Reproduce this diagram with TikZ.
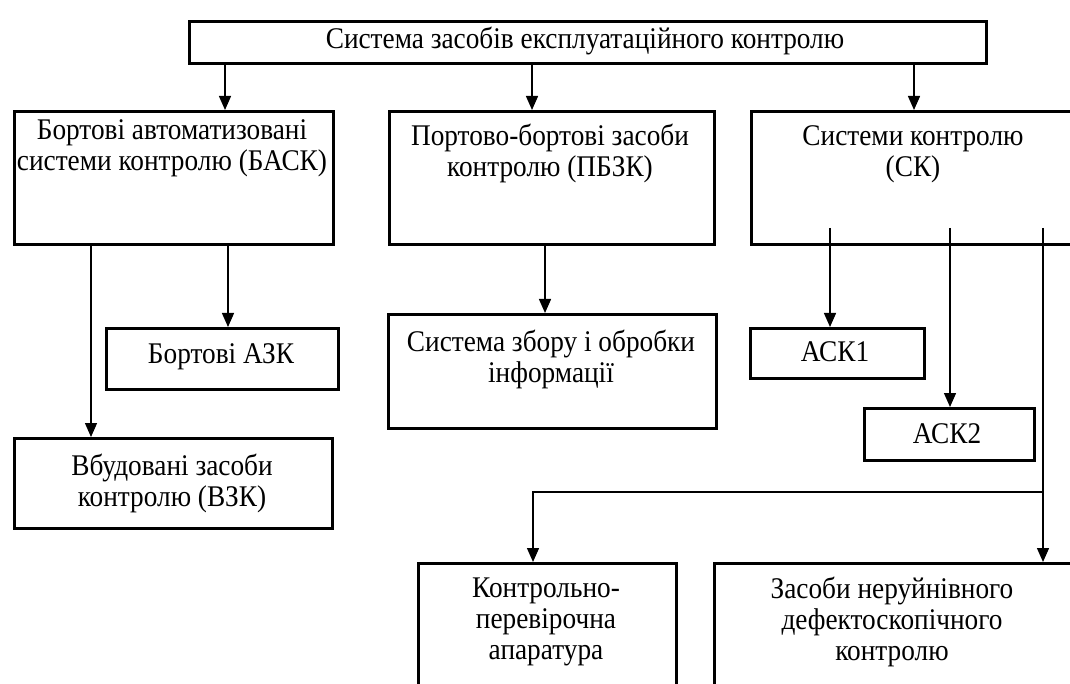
\documentclass[tikz,border=0pt]{standalone}
\usepackage{fontspec}
\setmainfont{Liberation Serif}[FakeStretch=0.91]
\usetikzlibrary{arrows.meta}

\begin{document}
\begin{tikzpicture}[%
        x = 1pt,
        y = -1pt,
        draw = black,
        line width = 1.4pt,
        blok/.style = {draw, line width = 3pt, anchor = north west, inner sep = 0pt},
        napys/.style = {align = center, inner sep = 0pt, font = \fontsize{30}{31}\selectfont},
        strilka/.style = {-{Triangle[length = 14pt, width = 12pt]}},
        ]

\useasboundingbox[clip] (0,0) rectangle (1070,684);

% ramky
\foreach \NAME/\X/\Y/\W/\H in {korin/188/20/797/42,
        bask/13/110/319/133, pbzk/388/110/325/133, sk/750/110/328/133,
        azk/105/327/232/61, vzk/13/437/318/90, zbir/387/313/328/114,
        ask1/749/327/174/50, ask2/863/407/170/52,
        kpa/417/562/258/140, nrk/713/562/365/140}{%
    \node (\NAME) [blok, minimum width = \W pt, minimum height = \H pt] at (\X,\Y) {};
    }

% napysy
\node (korinT) [napys] at (585,41) {Система засобів експлуатаційного контролю};
\node (baskT) [napys] at (172,148) {Бортові автоматизовані\\системи контролю (БАСК)};
\node (pbzkT) [napys] at (550,153) {Портово-бортові засоби\\контролю (ПБЗК)};
\node (skT) [napys] at (913,154) {Системи контролю\\(СК)};
\node (azkT) [napys] at (221,357) {Бортові АЗК};
\node (vzkT) [napys] at (172,483) {Вбудовані засоби\\контролю (ВЗК)};
\node (zbirT) [napys] at (551,359) {Система збору і обробки\\інформації};
\node (ask1T) [napys] at (835,352) {АСК1};
\node (ask2T) [napys] at (947,434) {АСК2};
\node (kpaT) [napys] at (546,622) {Контрольно-\\перевірочна\\апаратура};
\node (nrkT) [napys] at (892,622) {Засоби неруйнівного\\дефектоскопічного\\контролю};

\coordinate (vidhil) at (0,228);
\coordinate (rozg) at (0,492);

\foreach \INDEX/\XPOS in {1/225,2/532,3/914,4/91,5/228,6/545,7/830,8/950,9/1043,10/533}{%
    \coordinate (x\INDEX) at (\XPOS,0);
    }

\draw[strilka] (korin.south -| x1) -- (bask.north -| x1);
\draw[strilka] (korin.south -| x2) -- (pbzk.north -| x2);
\draw[strilka] (korin.south -| x3) -- (sk.north -| x3);

\draw[strilka] (bask.south -| x4) -- (vzk.north -| x4);
\draw[strilka] (bask.south -| x5) -- (azk.north -| x5);
\draw[strilka] (pbzk.south -| x6) -- (zbir.north -| x6);

\draw[strilka] (x7 |- vidhil) -- (ask1.north -| x7);
\draw[strilka] (x8 |- vidhil) -- (ask2.north -| x8);
\draw[strilka] (x9 |- vidhil) -- (nrk.north -| x9);
\draw[strilka] (x9 |- rozg) -- (x10 |- rozg) -- (kpa.north -| x10);

\end{tikzpicture}
\end{document}
